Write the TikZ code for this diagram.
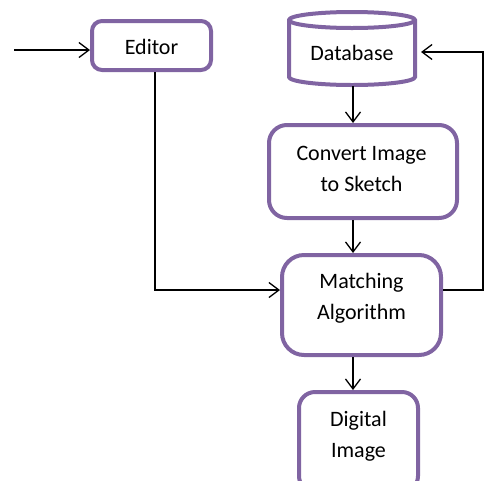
\documentclass[tikz,border=0pt]{standalone}
\usepackage{fontspec}
\setmainfont{Carlito}
\usetikzlibrary{arrows.meta}
\definecolor{boxpurple}{RGB}{128,100,162}
\begin{document}
\begin{tikzpicture}[x=1pt,y=-1pt,
  box/.style={draw=boxpurple, line width=4pt, fill=white, rounded corners=#1, align=center, inner sep=0pt},
  box/.default=14pt,
  txt/.style={font=\fontsize{22}{31}\selectfont, align=center, inner sep=0pt},
  conn/.style={draw=black, line width=1.3pt, -{Straight Barb[length=10pt,width=15pt,line width=1.3pt]}},
  plain/.style={draw=black, line width=1.3pt}
]
\useasboundingbox (0,0) rectangle (486,480);
\clip (0,0) rectangle (486,480);

% Editor
\node[box=10pt, minimum width=119pt, minimum height=49pt] (editor) at (151.5,45.5) {};
\node[txt] (editortxt) at (151.5,47) {Editor};

% Database cylinder
\node[draw=none, minimum width=126pt, minimum height=73pt, inner sep=0pt] (db) at (352,48.5) {};
\draw[boxpurple, line width=4pt, fill=white]
  (289,20) -- (289,77) arc[start angle=180, end angle=0, x radius=63, y radius=8]
  -- (415,20) arc[start angle=0, end angle=-180, x radius=63, y radius=8] -- cycle;
\draw[boxpurple, line width=4pt] (289,20) arc[start angle=180, end angle=0, x radius=63, y radius=8];
\node[txt] (dbtxt) at (352,53) {Database};

% Convert Image to Sketch
\node[box=18pt, minimum width=188pt, minimum height=93pt] (conv) at (363,171.5) {};
\node[txt] (convtxt) at (361.5,169) {Convert Image\\to Sketch};

% Matching Algorithm
\node[box=22pt, minimum width=159pt, minimum height=100pt] (match) at (361.5,305) {};
\node[txt] (matchtxt) at (361.5,298) {Matching\\Algorithm};

% Digital Image
\node[box=16pt, minimum width=119pt, minimum height=100pt] (dig) at (358.5,442) {};
\node[txt] (digtxt) at (358.5,436) {Digital\\Image};

% coordinates for connectors
\coordinate (in) at (14,50);
\coordinate (e1) at (155,290);
\coordinate (ax) at (353,0);
\coordinate (r) at (483,290);
\coordinate (rt) at (483,52);
\coordinate (dbin) at (421,52);

% connectors
\draw[conn] (in) -- (in -| editor.west);
\draw[conn] (e1 |- editor.south) -- (e1) -- (e1 -| match.west);
\draw[conn] (ax |- db.south) ++(0,1) -- (ax |- conv.north);
\draw[conn] (ax |- conv.south) -- (ax |- match.north);
\draw[conn] (ax |- match.south) -- (ax |- dig.north);
\draw[conn] (r -| match.east) -- (r) -- (rt) -- (dbin);
\end{tikzpicture}
\end{document}
